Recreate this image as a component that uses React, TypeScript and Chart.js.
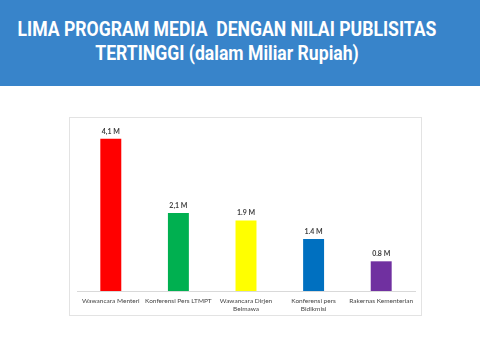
import React, { useEffect, useRef } from "react";
import { Chart, registerables } from "chart.js";

Chart.register(...registerables);

const categories: (string | string[])[] = [
  "Wawancara Menteri",
  "Konferensi Pers LTMPT",
  ["Wawancara Dirjen", "Belmawa"],
  ["Konferensi pers", "Bidikmisi"],
  "Rakernas Kementerian",
];
const values = [4.1, 2.1, 1.9, 1.4, 0.8];
const valueLabels = ["4,1 M", "2,1 M", "1.9 M", "1.4 M", "0.8 M"];
const barColors = ["#ff0000", "#00b050", "#ffff00", "#0070c0", "#7030a0"];

const titleLine1 = "LIMA PROGRAM MEDIA  DENGAN NILAI PUBLISITAS";
const titleLine2 = "TERTINGGI (dalam Miliar Rupiah)";

const FONT = "Lato, 'Open Sans', sans-serif";

const valueLabelPlugin = {
  id: "valueLabels",
  afterDatasetsDraw(chart: any) {
    const ctx = chart.ctx;
    const meta = chart.getDatasetMeta(0);
    ctx.save();
    ctx.font = `bold 7px ${FONT}`;
    ctx.fillStyle = "#404040";
    ctx.textAlign = "center";
    ctx.textBaseline = "bottom";
    meta.data.forEach((bar: any, i: number) => {
      ctx.fillText(valueLabels[i], bar.x, bar.y - 4);
    });
    ctx.restore();
  },
};

export default function App() {
  const canvasRef = useRef<HTMLCanvasElement | null>(null);

  useEffect(() => {
    document.body.style.margin = "0";
    const chart = new Chart(canvasRef.current!, {
      type: "bar",
      data: {
        labels: categories,
        datasets: [
          {
            data: values,
            backgroundColor: barColors,
            categoryPercentage: 1,
            barPercentage: 0.31,
          },
        ],
      },
      options: {
        animation: false,
        responsive: false,
        maintainAspectRatio: false,
        layout: { padding: { left: 8, right: 7, top: 7, bottom: 0 } },
        plugins: {
          legend: { display: false },
          tooltip: { enabled: false },
          title: { display: false },
        },
        scales: {
          x: {
            grid: { display: false, drawTicks: false },
            border: { display: true, color: "#d9d9d9", width: 1 },
            ticks: {
              padding: 6,
              maxRotation: 0,
              autoSkip: false,
              color: "#454545",
              font: { family: FONT, size: 6.5, lineHeight: 1.25 },
            },
            afterFit: (scale: any) => {
              scale.height = 25;
            },
          },
          y: {
            display: false,
            min: 0,
            max: 4.5,
          },
        },
      },
      plugins: [valueLabelPlugin],
    });
    return () => chart.destroy();
  }, []);

  const titleStyle: React.CSSProperties = {
    position: "absolute",
    left: 227,
    whiteSpace: "pre",
    transform: "translateX(-50%) scaleX(0.88)",
    lineHeight: "24px",
  };

  return (
    <div
      style={{
        position: "fixed",
        left: 0,
        top: 0,
        width: 480,
        height: 360,
        background: "#ffffff",
        overflow: "hidden",
      }}
    >
      <div
        style={{
          position: "absolute",
          left: 0,
          top: 0,
          width: 480,
          height: 86,
          background: "#3884ca",
          color: "#ffffff",
          fontFamily: "Roboto, sans-serif",
          fontWeight: "bold",
          fontSize: 20,
        }}
      >
        <div style={{ ...titleStyle, top: 17 }}>{titleLine1}</div>
        <div style={{ ...titleStyle, top: 41 }}>{titleLine2}</div>
      </div>
      <div
        style={{
          position: "absolute",
          left: 69,
          top: 117,
          width: 353,
          height: 199,
          border: "1px solid #e3e3e3",
          boxSizing: "border-box",
          background: "#ffffff",
        }}
      />
      <canvas
        ref={canvasRef}
        width={353}
        height={199}
        style={{ position: "absolute", left: 69, top: 117, width: 353, height: 199 }}
      />
    </div>
  );
}
